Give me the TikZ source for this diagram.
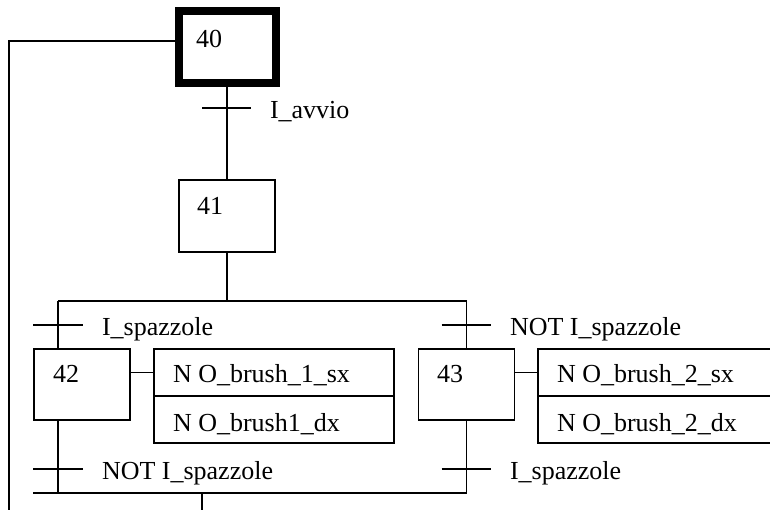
\documentclass[tikz,border=0pt]{standalone}
\usepackage{fontspec}
\setmainfont{Liberation Serif}
\begin{document}
\begin{tikzpicture}[x=1pt,y=-1pt,
  line width=1.4pt,
  every node/.style={font=\fontsize{26}{30}\selectfont},
  stepbox/.style={draw, line width=1.4pt, minimum width=96pt, minimum height=71pt, inner sep=0pt, outer sep=0pt},
  initstep/.style={stepbox, line width=8pt, minimum width=97pt, minimum height=72pt},
  actbox/.style={draw, line width=1.4pt, inner sep=0pt, outer sep=0pt, minimum height=47pt, anchor=north west},
  txt/.style={anchor=base west, inner sep=0pt, outer sep=0pt},
  link/.style={line width=1.4pt},
  tbar/.style={line width=1.5pt}
]
% page frame
\clip (0,0) rectangle (770,510);
\fill[white] (0,0) rectangle (770,510);

% steps
\node[initstep] (s40) at (227,47.5) {};
\node[stepbox, minimum height=72pt] (s41) at (227,216) {};
\node[stepbox] (s42) at (82,384.5) {};
\node[stepbox] (s43) at (466.5,384.5) {};

% step numbers
\node[txt] (n40) at (196,47.7) {40};
\node[txt] (n41) at (197,215) {41};
\node[txt] (n42) at (53,382.7) {42};
\node[txt] (n43) at (437,382.7) {43};

% action blocks
\node[actbox, minimum width=240pt] (a42a) at (154,349) {};
\node[actbox, minimum width=240pt] (a42b) at (154,396) {};
\node[actbox, minimum width=252pt] (a43a) at (538,349) {};
\node[actbox, minimum width=252pt] (a43b) at (538,396) {};
\node[txt] (t42a) at (173,382.7) {N O\_brush\_1\_sx};
\node[txt] (t42b) at (173,431) {N O\_brush1\_dx};
\node[txt] (t43a) at (557,382.7) {N O\_brush\_2\_sx};
\node[txt] (t43b) at (557,431) {N O\_brush\_2\_dx};

% action links
\draw[link] (s42.east |- a42a.west) -- (a42a.west);
\draw[link] (s43.east |- a43a.west) -- (a43a.west);

% sequence 40 -> 41
\draw[link] (s40.south) -- (s41.north);
\coordinate (tr1) at (227,108);
\draw[tbar] ([xshift=-25pt]tr1) -- ([xshift=24pt]tr1);
\node[txt] (l1) at (270,119) {I\_avvio};

% divergence
\coordinate (dv) at (227,301);
\coordinate (dvL) at (58,301);
\coordinate (dvR) at (s43.north |- dv);
\draw[link] (s41.south) -- (dv);
\draw[link] (dvL) -- (dvR);
\draw[link] (dvL) -- (dvL |- s42.north);
\draw[link] (dvR) -- (s43.north);

% transitions into 42 and 43
\coordinate (tr2) at (58,325);
\coordinate (tr3) at (s43.north |- tr2);
\draw[tbar] ([xshift=-25pt]tr2) -- ([xshift=25pt]tr2);
\draw[tbar] ([xshift=-25pt]tr3) -- ([xshift=24pt]tr3);
\node[txt] (l2) at (102,335) {I\_spazzole};
\node[txt] (l3) at (510,335) {NOT I\_spazzole};

% convergence
\coordinate (cv) at (58,493);
\coordinate (cvL) at (33,493);
\coordinate (cvR) at (s43.south |- cv);
\coordinate (cvOut) at (202,493);
\coordinate (cvEnd) at (202,520);
\draw[link] (dvL |- s42.south) -- (cv);
\draw[link] (s43.south) -- (cvR);
\draw[link, line width=1.6pt] (cvL) -- (cvR);
\draw[link] (cvOut) -- (cvEnd);

% transitions out of 42 and 43
\coordinate (tr4) at (58,469);
\coordinate (tr5) at (s43.south |- tr4);
\draw[tbar] ([xshift=-25pt]tr4) -- ([xshift=25pt]tr4);
\draw[tbar] ([xshift=-25pt]tr5) -- ([xshift=24pt]tr5);
\node[txt] (l4) at (102,479) {NOT I\_spazzole};
\node[txt] (l5) at (510,479) {I\_spazzole};

% return line to step 40
\coordinate (rt) at (9,41);
\coordinate (rtEnd) at (9,520);
\draw[link] (s40.west |- rt) -- (rt) -- (rtEnd);
\end{tikzpicture}
\end{document}
